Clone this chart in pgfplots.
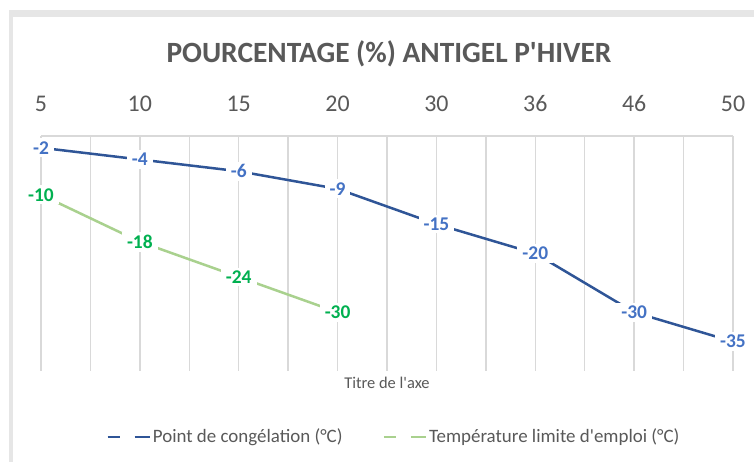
\documentclass[border=0pt]{standalone}
\usepackage{pgfplots}
\pgfplotsset{compat=1.18}
\usepackage{fontspec}
\setmainfont{Carlito}
\definecolor{txtgray}{HTML}{595959}
\definecolor{gridgray}{HTML}{D9D9D9}
\definecolor{bandgray}{HTML}{E6E6E6}
\definecolor{blueline}{HTML}{2F5597}
\definecolor{bluelab}{HTML}{4472C4}
\definecolor{greenline}{HTML}{A9D18E}
\definecolor{greenlab}{HTML}{00B050}
\begin{document}
\begin{tikzpicture}[x=1bp,y=1bp]
\useasboundingbox (0,0) rectangle (754,462);
\fill[white] (0,0) rectangle (754,462);
\fill[bandgray] (9,445) rectangle (754,452);
\fill[bandgray] (9,0) rectangle (13,452);
\node[text=txtgray, font=\fontsize{29.5}{34}\selectfont\bfseries] at (389,408) {POURCENTAGE (\%) ANTIGEL P\textquotesingle HIVER};
\begin{axis}[
  at={(41bp,91bp)}, anchor=south west,
  scale only axis, width=692bp, height=235bp,
  xmin=0, xmax=7, ymin=-40, ymax=0,
  axis x line*=top, axis y line=none,
  x axis line style={gridgray, line width=1.5bp, -},
  xtick={0,1,2,3,4,5,6,7},
  xticklabels={5,10,15,20,30,36,46,50},
  minor x tick num=1,
  ytick=\empty,
  major tick length=0pt, minor tick length=0pt,
  xmajorgrids, xminorgrids,
  major grid style={gridgray, line width=1.5bp},
  minor grid style={gridgray, line width=1.5bp},
  xticklabel style={text=txtgray, font=\fontsize{24}{28}\selectfont, anchor=south, yshift=21bp},
  /pgf/number format/assume math mode=true,
  clip=false,
  legend columns=2,
  legend style={draw=none, fill=none, at={(axis description cs:0.51,-0.28)}, anchor=center,
    font=\fontsize{19}{23}\selectfont, text=txtgray,
    /tikz/every even column/.append style={column sep=38bp}},
  legend image code/.code={\draw[#1] (0bp,0bp) -- (12bp,0bp); \draw[#1] (27bp,0bp) -- (42bp,0bp);},
  legend cell align=left,
  nodes near coords,
  point meta=explicit symbolic,
  every node near coord/.append style={anchor=center, fill=white, inner xsep=5bp, inner ysep=3bp, font=\fontsize{19.5}{23}\selectfont\bfseries},
]
\addplot[blueline, line width=2.5bp, every node near coord/.append style={text=bluelab}] coordinates {
  (0,-2) [-2] (1,-4) [-4] (2,-6) [-6] (3,-9) [-9] (4,-15) [-15] (5,-20) [-20] (6,-30) [-30] (7,-35) [-35]
};
\addlegendentry{Point de congélation (°C)}
\addplot[greenline, line width=2.5bp, every node near coord/.append style={text=greenlab}] coordinates {
  (0,-10) [-10] (1,-18) [-18] (2,-24) [-24] (3,-30) [-30]
};
\addlegendentry{Température limite d\textquotesingle emploi (°C)}
\node[text=txtgray, font=\fontsize{16.5}{20}\selectfont] at (axis cs:3.5,-40) [yshift=-12bp] {Titre de l\textquotesingle axe};
\end{axis}
\end{tikzpicture}
\end{document}
